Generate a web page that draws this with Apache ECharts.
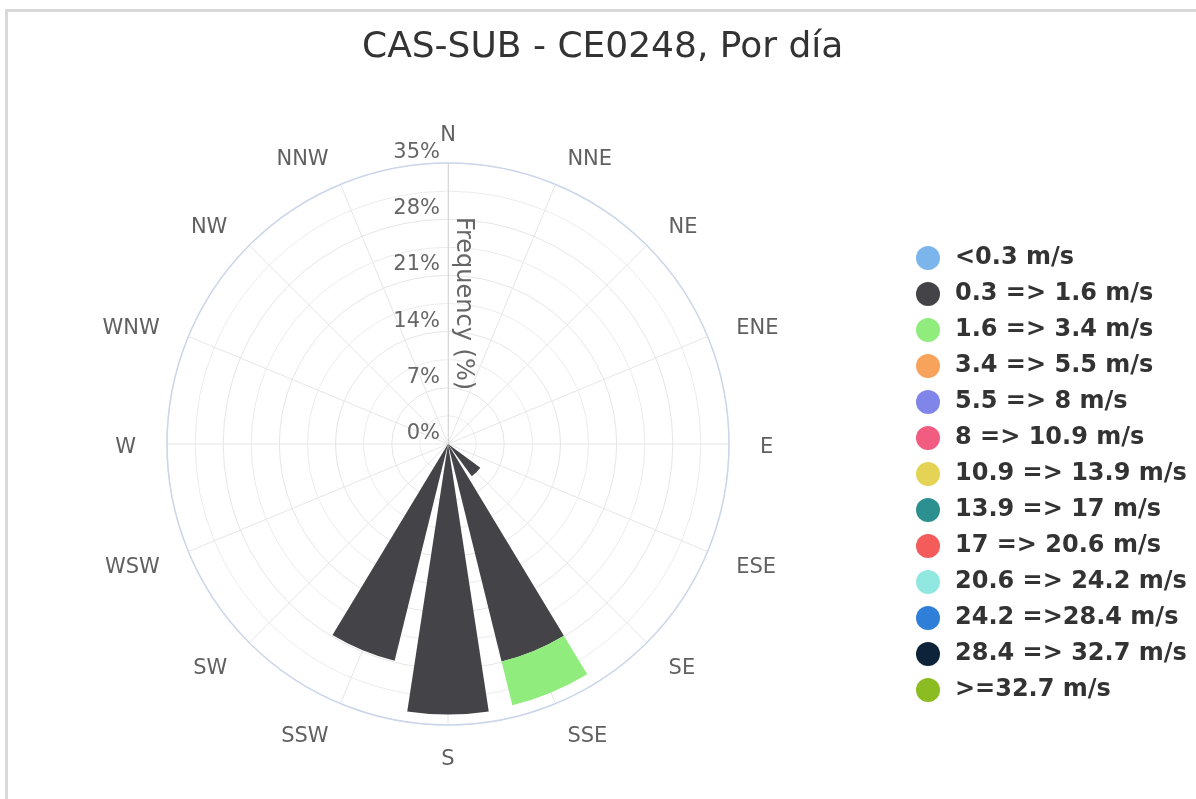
<!DOCTYPE html>
<html>
<head>
<meta charset="utf-8">
<script src="https://cdn.jsdelivr.net/npm/echarts@6/dist/echarts.min.js"></script>
<style>
html,body{margin:0;padding:0;background:#fff;overflow:hidden;}
#frame{position:absolute;left:5px;top:9px;width:1300px;height:900px;border:3px solid #d9d9d9;box-sizing:border-box;}
#chart{position:absolute;left:0;top:0;width:1196px;height:799px;}
</style>
</head>
<body>
<div id="frame"></div>
<div id="chart"></div>
<script>
const titleText = 'CAS-SUB - CE0248, Por día';
const directions = ['N','NNE','NE','ENE','E','ESE','SE','SSE','S','SSW','SW','WSW','W','WNW','NW','NNW'];
const radiusTicks = [0, 7, 14, 21, 28, 35];
const binNames = ['<0.3 m/s','0.3 => 1.6 m/s','1.6 => 3.4 m/s','3.4 => 5.5 m/s','5.5 => 8 m/s','8 => 10.9 m/s','10.9 => 13.9 m/s','13.9 => 17 m/s','17 => 20.6 m/s','20.6 => 24.2 m/s','24.2 =>28.4 m/s','28.4 => 32.7 m/s','>=32.7 m/s'];
const binColors = ['#7cb5ec','#434348','#90ed7d','#f7a35c','#8085e9','#f15c80','#e4d354','#2b908f','#f45b5b','#91e8e1','#2f7ed8','#0d233a','#8bbc21'];
//                 N  NNE NE ENE E ESE SE   SSE   S     SSW   SW WSW W WNW NW NNW
const calm     = [0, 0, 0, 0, 0, 0, 0,   0,    0,    0,    0, 0, 0, 0, 0, 0];
const v03to16  = [0, 0, 0, 0, 0, 0, 5.0, 27.9, 33.7, 27.8, 0, 0, 0, 0, 0, 0];
const v16to34  = [0, 0, 0, 0, 0, 0, 0,   5.6,  0,    0,    0, 0, 0, 0, 0, 0];
const v34to55  = [0, 0, 0, 0, 0, 0, 0, 0, 0, 0, 0, 0, 0, 0, 0, 0];
const v55to8   = [0, 0, 0, 0, 0, 0, 0, 0, 0, 0, 0, 0, 0, 0, 0, 0];
const v8to109  = [0, 0, 0, 0, 0, 0, 0, 0, 0, 0, 0, 0, 0, 0, 0, 0];
const v109to139= [0, 0, 0, 0, 0, 0, 0, 0, 0, 0, 0, 0, 0, 0, 0, 0];
const v139to17 = [0, 0, 0, 0, 0, 0, 0, 0, 0, 0, 0, 0, 0, 0, 0, 0];
const v17to206 = [0, 0, 0, 0, 0, 0, 0, 0, 0, 0, 0, 0, 0, 0, 0, 0];
const v206to242= [0, 0, 0, 0, 0, 0, 0, 0, 0, 0, 0, 0, 0, 0, 0, 0];
const v242to284= [0, 0, 0, 0, 0, 0, 0, 0, 0, 0, 0, 0, 0, 0, 0, 0];
const v284to327= [0, 0, 0, 0, 0, 0, 0, 0, 0, 0, 0, 0, 0, 0, 0, 0];
const v327up   = [0, 0, 0, 0, 0, 0, 0, 0, 0, 0, 0, 0, 0, 0, 0, 0];
const binData = [calm, v03to16, v16to34, v34to55, v55to8, v8to109, v109to139, v139to17, v17to206, v206to242, v242to284, v284to327, v327up];

const chart = echarts.init(document.getElementById('chart'), null, {renderer: 'canvas'});
const FONT = 'DejaVu Sans';
const center = [448, 444];
const R = 281;
const labelCenter = [448, 448];
const labelR = 312;
const rMax = radiusTicks[radiusTicks.length - 1];
const rInt = radiusTicks[1] - radiusTicks[0];
const halfStep = 360 / directions.length / 2;

const series = binNames.map((name, i) => ({
  name: name,
  type: 'bar',
  coordinateSystem: 'polar',
  polarIndex: 1,
  stack: 'wind',
  data: binData[i],
  itemStyle: {color: binColors[i]},
  barCategoryGap: '23%',
  emphasis: {disabled: true},
  z: 5
}));

// direction labels (middle aligned, left/right by side of the rose)
series.push({
  name: 'dirLabels',
  type: 'scatter',
  coordinateSystem: 'polar',
  polarIndex: 2,
  symbolSize: 0,
  silent: true,
  itemStyle: {opacity: 1, color: '#666'},
  data: directions.map((d, i) => {
    const s = Math.sin(i * 2 * halfStep * Math.PI / 180);
    return {
      name: d,
      value: [1, i],
      label: {align: Math.abs(s) < 0.01 ? 'center' : (s > 0 ? 'left' : 'right')}
    };
  }),
  label: {
    show: true,
    position: 'inside',
    formatter: '{b}',
    verticalAlign: 'middle',
    fontFamily: FONT,
    fontSize: 21,
    color: '#606060',
    opacity: 1
  },
  z: 3
});

chart.setOption({
  animation: false,
  backgroundColor: 'transparent',
  title: {
    text: titleText,
    left: 357,
    top: 25,
    textStyle: {fontFamily: FONT, fontSize: 36, fontWeight: 'normal', color: '#333'}
  },
  legend: {
    orient: 'vertical',
    left: 911,
    top: 241,
    itemWidth: 44,
    itemHeight: 24,
    itemGap: 12,
    icon: 'circle',
    data: binNames,
    textStyle: {fontFamily: FONT, fontSize: 24, fontWeight: 'bold', color: '#333'}
  },
  polar: [
    {center: center, radius: R},
    {center: center, radius: R},
    {center: labelCenter, radius: labelR}
  ],
  angleAxis: [
    {
      polarIndex: 0,
      type: 'value',
      min: 0, max: 360, interval: 22.5,
      startAngle: 90,
      clockwise: true,
      axisLine: {show: true, lineStyle: {color: '#ccd6eb', width: 1.5}},
      axisTick: {show: false},
      axisLabel: {show: false},
      splitLine: {show: true, lineStyle: {color: '#e6e6e6', width: 1}}
    },
    {
      polarIndex: 1,
      type: 'category',
      data: directions,
      startAngle: 90 + halfStep,
      clockwise: true,
      boundaryGap: true,
      axisLine: {show: false},
      axisTick: {show: false},
      splitLine: {show: false},
      axisLabel: {show: false}
    },
    {
      polarIndex: 2,
      type: 'category',
      data: directions,
      startAngle: 90 + halfStep,
      clockwise: true,
      boundaryGap: true,
      axisLine: {show: false},
      axisTick: {show: false},
      splitLine: {show: false},
      axisLabel: {show: false}
    }
  ],
  radiusAxis: [
    {
      polarIndex: 0,
      type: 'value',
      min: 0, max: rMax, interval: rInt,
      axisLine: {show: true, lineStyle: {color: '#d8d8d8', width: 1}},
      axisTick: {show: false},
      minorTick: {show: false, splitNumber: 2},
      minorSplitLine: {show: true, lineStyle: {color: '#ececec', width: 1}},
      splitLine: {show: true, lineStyle: {color: '#e6e6e6', width: 1}},
      axisLabel: {show: true, formatter: '{value}%', fontFamily: FONT, fontSize: 21, color: '#666', margin: 8, verticalAlign: 'bottom', align: 'right'},
      name: 'Frequency (%)',
      nameLocation: 'middle',
      nameRotate: -90,
      nameGap: 3,
      nameTextStyle: {fontFamily: FONT, fontSize: 24, color: '#666'}
    },
    {
      polarIndex: 1,
      type: 'value',
      min: 0, max: rMax,
      axisLine: {show: false},
      axisTick: {show: false},
      axisLabel: {show: false},
      splitLine: {show: false}
    },
    {
      polarIndex: 2,
      type: 'value',
      min: 0, max: 1,
      axisLine: {show: false},
      axisTick: {show: false},
      axisLabel: {show: false},
      splitLine: {show: false}
    }
  ],
  series: series
});
</script>
</body>
</html>
